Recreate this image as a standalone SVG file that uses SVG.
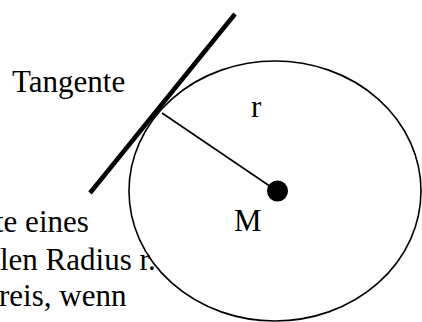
<svg xmlns="http://www.w3.org/2000/svg" width="422" height="322" viewBox="0 0 422 322">
<style>
text{font-family:"Liberation Serif","Times New Roman",serif;font-size:31px;fill:#000}
.thin{stroke:#000;stroke-width:1.6;fill:none}
</style>
<rect width="422" height="322" fill="#fff"/>
<g id="body-text">
<text x="-5" y="232">te eines</text>
<text x="0" y="270">len Radius r.</text>
<text x="-1" y="306">reis, wenn</text>
</g>
<g id="circle">
<ellipse class="thin" cx="275" cy="191" rx="146" ry="130"/>
</g>
<g id="connectors">
<line class="thin" x1="162" y1="113" x2="277" y2="191"/>
<line x1="235" y1="14" x2="90" y2="193" stroke="#000" stroke-width="4.5"/>
</g>
<g id="center">
<circle cx="277.5" cy="191" r="10.5" fill="#000"/>
<text x="234" y="231">M</text>
</g>
<g id="radius-label"><text x="251" y="117">r</text></g>
<g id="tangent-label"><text x="12" y="92">Tangente</text></g>
</svg>
